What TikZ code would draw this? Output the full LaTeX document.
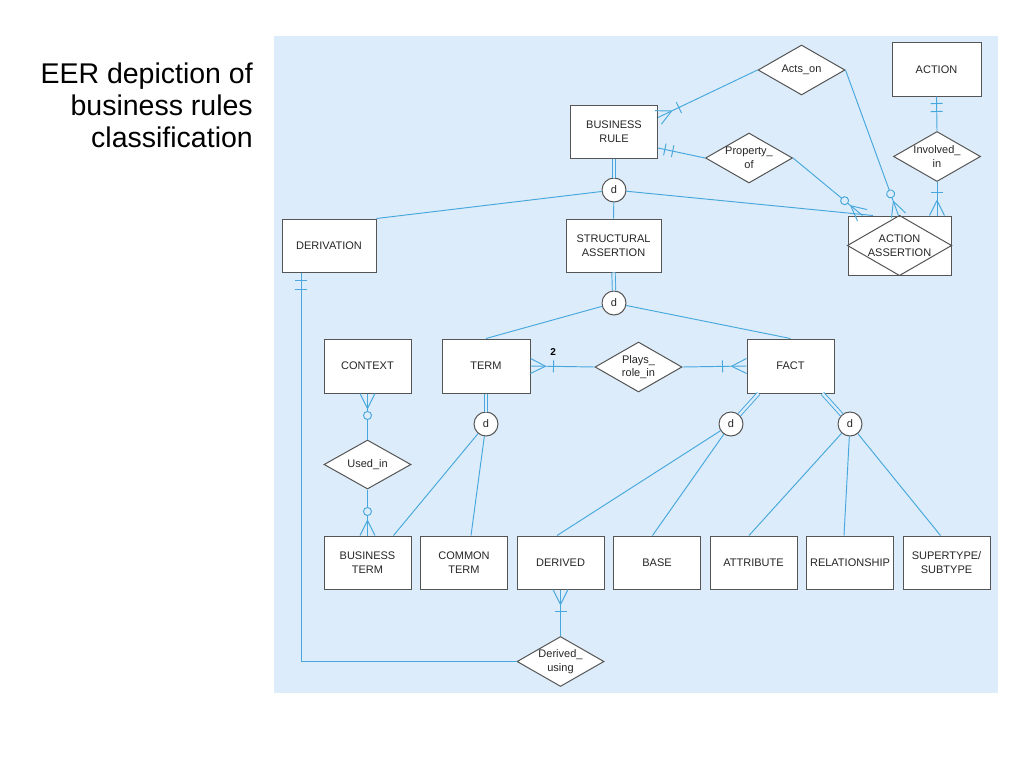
\documentclass[tikz,border=0pt]{standalone}
\usepackage{fontspec}
\setmainfont{Liberation Sans}
\usetikzlibrary{shapes.geometric, positioning, decorations.markings}

\definecolor{erline}{RGB}{72,168,222}
\definecolor{erback}{RGB}{220,236,250}
\definecolor{erdraw}{RGB}{85,85,85}

% cardinality symbols, drawn at the end of a connector
\newcommand{\erCrow}{\draw[symbol] (-15pt,0) -- (0,7.5pt) (-15pt,0) -- (0,-7.5pt);}
\newcommand{\erBar}[1]{\draw[symbol] (-#1,-6pt) -- (-#1,6pt);}
\newcommand{\erRing}[1]{\draw[symbol, fill=erback] (-#1,0) circle (4pt);}

\begin{document}
\begin{tikzpicture}[
    x=1pt, y=-1pt,
    entity/.style={rectangle, draw=erdraw, fill=white, line width=1pt, minimum width=87pt, minimum height=53pt, inner sep=1pt, align=center, text=black!85, font=\fontsize{11}{14}\selectfont},
    relation/.style={diamond, draw=erdraw, fill=white, line width=1pt, aspect=1.74, minimum width=87pt, minimum height=50pt, inner sep=-1pt, align=center, text=black!85, font=\fontsize{11}{13.5}\selectfont},
    dsub/.style={circle, draw=erdraw, fill=white, line width=1pt, minimum size=24pt, inner sep=0pt, text=black!85, font=\fontsize{11}{13}\selectfont},
    link/.style={draw=erline, line width=0.95pt},
    total/.style={link, double=erback, double distance=2.4pt},
    symbol/.style={draw=erline, line width=0.95pt},
    end sym/.style={postaction={decorate, decoration={markings, mark=at position 1 with {#1}}}},
    node distance=8.5pt
]
    \useasboundingbox (0,0) rectangle (1024,768);
    \fill[erback] (274,36) rectangle (998,693);

    % Title
    \node[anchor=north east, align=right, inner sep=0pt, font=\fontsize{28.5}{32}\selectfont] (title) at (253,63) {EER depiction of\\business rules\\classification};

    % Nodes
    \node[entity] (br) at (614,131.5) {BUSINESS\\RULE};
    \node[relation] (actson) at (801.5,70) {Acts\_on};
    \node[entity, minimum width=89pt] (action) at (936.5,69.5) {ACTION};
    \node[relation] (propof) at (749,158) {Property\_\\of};
    \node[relation] (involved) at (937,156.5) {Involved\_\\in};
    \node[dsub] (d1) at (614,190) {d};
    \node[entity, minimum width=95pt] (sa) at (613.5,245.5) {STRUCTURAL\\ASSERTION};
    \node[entity, minimum width=103pt, minimum height=59pt] (aa) at (899.5,245.5) {ACTION\\ASSERTION};
    \draw[draw=erdraw, line width=1pt] (aa.north) -- (aa.east) -- (aa.south) -- (aa.west) -- cycle;
    \node[entity, minimum width=94pt] (derivation) at (329,245.5) {DERIVATION};
    \node[dsub] (d2) at (614,303) {d};
    \node[entity, minimum height=54pt] (context) at (367.5,366) {CONTEXT};
    \node[entity, minimum width=88pt, minimum height=54pt] (term) at (486,366) {TERM};
    \node[relation] (plays) at (638.5,367) {Plays\_\\role\_in};
    \node[entity, minimum height=54pt] (fact) at (790.5,366) {FACT};
    \node[dsub] (d3) at (486,424) {d};
    \node[dsub] (d4) at (731,424) {d};
    \node[dsub] (d5) at (850,424) {d};
    \node[relation, minimum height=49pt] (usedin) at (367.5,464.5) {Used\_in};
    \node[entity] (bterm) at (367.5,562.5) {BUSINESS\\TERM};
    \node[entity, right=of bterm] (cterm) {COMMON\\TERM};
    \node[entity, right=of cterm] (derived) {DERIVED};
    \node[entity, right=of derived] (base) {BASE};
    \node[entity, right=of base] (attribute) {ATTRIBUTE};
    \node[entity, right=of attribute] (relship) {RELATIONSHIP};
    \node[entity, right=of relship] (supsub) {SUPERTYPE/\\SUBTYPE};
    \node[relation] (dusing) at (derived |- 0,661.5) {Derived\_\\using};

    % Relationships
    \draw[link, end sym={\erCrow\erBar{23pt}}] (actson.west) -- ([yshift=14pt]br.east);
    \draw[link, end sym={\erCrow\erRing{23pt}}] (actson.east) -- ([xshift=-1pt]aa.north);
    \draw[link, end sym={\erBar{7pt}\erBar{15pt}}] (propof.west) -- ([yshift=-16.5pt]br.east);
    \draw[link, end sym={\erCrow\erRing{23pt}}] (propof.east) -- ([xshift=-37pt]aa.north);
    \draw[link, end sym={\erBar{7pt}\erBar{15pt}}] (involved.north) -- (action.south);
    \draw[link, end sym={\erCrow\erBar{23pt}}] (involved.south) -- ([xshift=37.5pt]aa.north);
    \draw[link, end sym={\erCrow\erBar{23pt}}] (plays.west) -- node[pos=0.646, anchor=south, yshift=10pt, inner sep=0pt, font=\bfseries\fontsize{10}{11}\selectfont] (two) {2} (term.east);
    \draw[link, end sym={\erCrow\erBar{24pt}}] (plays.east) -- (fact.west);
    \draw[link, end sym={\erCrow\erRing{22pt}}] (usedin.north) -- (context.south);
    \draw[link, end sym={\erCrow\erRing{24pt}}] (usedin.south) -- (bterm.north);
    \draw[link, end sym={\erCrow\erBar{22pt}}] (dusing.north) -- (derived.south);
    \draw[link, end sym={\erBar{8pt}\erBar{17pt}}] (dusing.west) -| ([xshift=-28pt]derivation.south);

    % Subtypes
    \draw[total] (br.south) -- (d1.north);
    \draw[link] (d1) -- (sa.north);
    \draw[link] (d1) -- (derivation.north east);
    \draw[link] (d1) -- ([xshift=-26.5pt]aa.north);
    \draw[total] (sa.south) -- (d2.north);
    \draw[link] (d2) -- (term.north);
    \draw[link] (d2) -- (fact.north);
    \draw[total] (term.south) -- (d3.north);
    \draw[link] (d3) -- ([xshift=26pt]bterm.north);
    \draw[link] (d3) -- ([xshift=7pt]cterm.north);
    \draw[total] ([xshift=-32pt]fact.south) -- (d4);
    \draw[total] ([xshift=32pt]fact.south) -- (d5);
    \draw[link] (d4) -- ([xshift=-3.5pt]derived.north);
    \draw[link] (d4) -- ([xshift=-4.5pt]base.north);
    \draw[link] (d5) -- ([xshift=-4.5pt]attribute.north);
    \draw[link] (d5) -- ([xshift=-6pt]relship.north);
    \draw[link] (d5) -- ([xshift=-6pt]supsub.north);
\end{tikzpicture}
\end{document}
